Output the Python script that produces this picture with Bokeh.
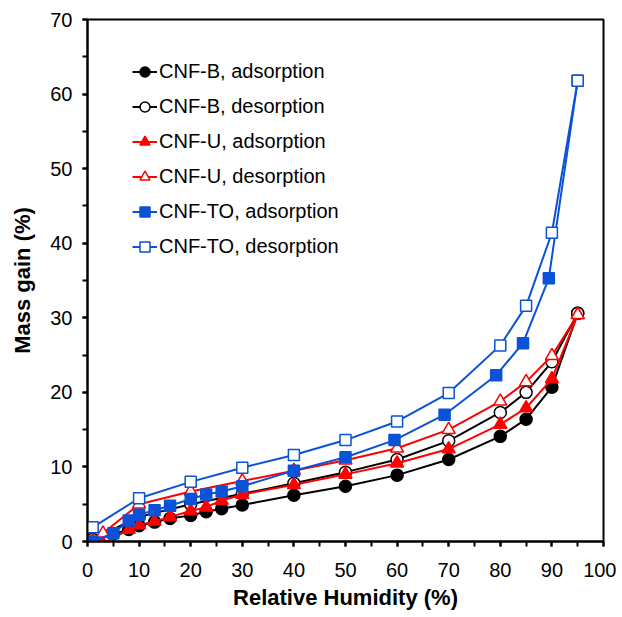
from bokeh.plotting import figure
from bokeh.models import SingleIntervalTicker, Legend, LegendItem
from bokeh.embed import file_html
from bokeh.resources import INLINE

# ---- data ----
rh_b_ads = [1, 5, 8, 10, 13, 16, 20, 23, 26, 30, 40, 50, 60, 70, 80, 85, 90, 95]
b_ads = [0.1, 1.0, 1.6, 2.1, 2.6, 3.1, 3.5, 4.0, 4.4, 4.9, 6.2, 7.4, 8.9, 11.0, 14.1, 16.4, 20.7, 30.6]

rh_b_des = [95, 90, 85, 80, 70, 60, 50, 40, 30, 20, 10, 1]
b_des = [30.6, 24.1, 20.0, 17.3, 13.5, 11.0, 9.3, 7.8, 6.4, 5.0, 3.3, 0.3]

rh_u_ads = [3, 8, 10, 13, 16, 20, 23, 26, 30, 40, 50, 60, 70, 80, 85, 90, 95]
u_ads = [-0.3, 1.6, 2.2, 2.7, 3.3, 4.1, 4.6, 5.5, 6.3, 7.6, 9.0, 10.5, 12.4, 15.7, 17.9, 21.8, 30.4]

rh_u_des = [95, 90, 85, 80, 70, 60, 50, 40, 30, 20, 10, 3, 1]
u_des = [30.4, 24.9, 21.4, 18.8, 15.0, 12.5, 10.9, 9.5, 8.1, 6.7, 5.0, 1.1, 0.0]

rh_to_ads = [1, 5, 8, 10, 13, 16, 20, 23, 26, 30, 40, 50, 59.5, 69.2, 79.2, 84.4, 89.4, 95]
to_ads = [0.0, 1.1, 2.8, 3.6, 4.2, 4.8, 5.7, 6.3, 6.7, 7.4, 9.5, 11.3, 13.6, 17.0, 22.3, 26.6, 35.3, 61.8]

rh_to_des = [95, 90, 85, 80, 70, 60, 50, 40, 30, 20, 10, 1]
to_des = [61.8, 41.4, 31.6, 26.3, 19.9, 16.1, 13.6, 11.6, 9.9, 8.0, 5.8, 1.9]

labels = ["CNF-B, adsorption", "CNF-B, desorption", "CNF-U, adsorption",
          "CNF-U, desorption", "CNF-TO, adsorption", "CNF-TO, desorption"]

BLACK = "#000000"
RED = "#ff0000"
BLUE = "#0a52d6"
FONT = "Liberation Sans"

p = figure(width=616, height=614, x_range=(0, 100), y_range=(0, 70),
           output_backend="svg", toolbar_location=None,
           min_border_left=87, min_border_right=13, min_border_top=19,
           min_border_bottom=73)

p.xgrid.visible = False
p.ygrid.visible = False
p.outline_line_color = "black"
p.outline_line_width = 2
p.background_fill_color = "white"
p.border_fill_color = "white"

for ax in (p.xaxis[0], p.yaxis[0]):
    ax.ticker = SingleIntervalTicker(interval=10, num_minor_ticks=2)
    ax.axis_line_width = 2
    ax.axis_line_color = "black"
    ax.major_tick_line_width = 2
    ax.minor_tick_line_width = 2
    ax.major_tick_in = 0
    ax.major_tick_out = 5
    ax.minor_tick_in = 0
    ax.minor_tick_out = 5
    ax.major_label_text_font = FONT
    ax.major_label_text_font_size = "20px"
    ax.major_label_text_color = "black"
    ax.axis_label_text_font = FONT
    ax.axis_label_text_font_size = "22px"
    ax.axis_label_text_font_style = "bold"
    ax.axis_label_text_color = "black"

p.xaxis.axis_label = "Relative Humidity (%)"
p.yaxis.axis_label = "Mass gain (%)"
p.xaxis.major_label_standoff = 16
p.xaxis.axis_label_standoff = 5
p.yaxis.major_label_standoff = 10
p.yaxis.axis_label_standoff = 12

series = [
    (rh_b_ads, b_ads, BLACK, "circle", True, 12),
    (rh_b_des, b_des, BLACK, "circle", False, 12),
    (rh_u_ads, u_ads, RED, "triangle", True, 13),
    (rh_u_des, u_des, RED, "triangle", False, 13),
    (rh_to_ads, to_ads, BLUE, "square", True, 11),
    (rh_to_des, to_des, BLUE, "square", False, 11),
]

items = []
for (xs, ys, col, mk, filled, sz), lab in zip(series, labels):
    ln = p.line(xs, ys, line_color=col, line_width=2)
    sc = p.scatter(xs, ys, marker=mk, size=sz, line_color=col, line_width=1.5,
                   fill_color=col if filled else "white")
    items.append(LegendItem(label=lab, renderers=[ln, sc]))

legend = Legend(items=items, location=(45, 282))
legend.border_line_color = None
legend.background_fill_alpha = 0
legend.padding = 0
legend.margin = 0
legend.spacing = 10
legend.glyph_width = 25
legend.glyph_height = 25
legend.label_height = 25
legend.label_standoff = 2
legend.label_text_font = FONT
legend.label_text_font_size = "20px"
legend.label_text_color = "black"
p.add_layout(legend, "center")

open("out.html", "w").write(file_html(p, INLINE))
